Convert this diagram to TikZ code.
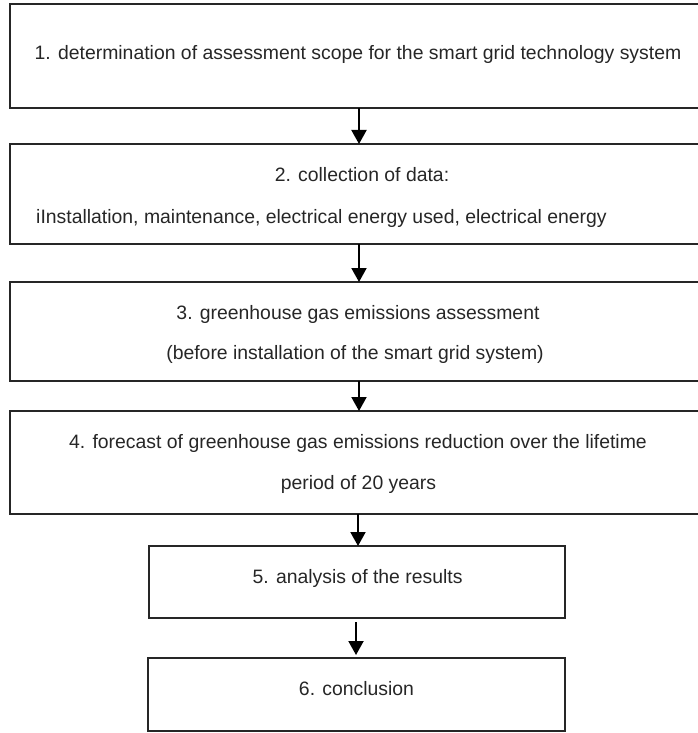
\documentclass[tikz,border=0pt]{standalone}
\usepackage{fontspec}
\setmainfont{Liberation Sans}
\usetikzlibrary{arrows.meta}
\begin{document}
\begin{tikzpicture}[x=1pt,y=-1pt,
  stepbox/.style={draw=black!85,line width=1.3pt,inner sep=0pt,outer sep=0pt,rectangle},
  lbl/.style={inner sep=0pt,anchor=base,text=black!85,font=\fontsize{19.4}{23}\selectfont},
  arr/.style={line width=2pt,-{Triangle[width=15pt,length=14pt]}}]
\useasboundingbox (0,0) rectangle (698,733);
\node[stepbox,minimum width=696pt,minimum height=104pt] (b1) at (358,56) {};
\node[stepbox,minimum width=696pt,minimum height=100pt] (b2) at (358,194) {};
\node[stepbox,minimum width=696pt,minimum height=99pt] (b3) at (358,331.5) {};
\node[stepbox,minimum width=696pt,minimum height=103pt] (b4) at (358,462.5) {};
\node[stepbox,minimum width=416pt,minimum height=72pt] (b5) at (357,582) {};
\node[stepbox,minimum width=417pt,minimum height=73pt] (b6) at (356.5,694.5) {};
\node[lbl] (t1) at (358,60) {1. determination of assessment scope for the smart grid technology system};
\node[lbl] (t2a) at (362,181) {2. collection of data:};
\node[lbl,anchor=base west] (t2b) at (36,223) {iInstallation, maintenance, electrical energy used, electrical energy};
\node[lbl] (t3a) at (358,319) {3. greenhouse gas emissions assessment};
\node[lbl] (t3b) at (355,359) {(before installation of the smart grid system)};
\node[lbl] (t4a) at (358,448) {4. forecast of greenhouse gas emissions reduction over the lifetime};
\node[lbl] (t4b) at (358.5,489) {period of 20 years};
\node[lbl] (t5) at (357.6,583) {5. analysis of the results};
\node[lbl] (t6) at (356.5,695) {6. conclusion};
\draw[arr] ([xshift=1pt]b1.south) -- ([xshift=1pt]b2.north);
\draw[arr] ([xshift=1pt]b2.south) -- ([xshift=1pt]b3.north);
\draw[arr] ([xshift=1pt]b3.south) -- ([xshift=1pt]b4.north);
\draw[arr] (b4.south) -- ([xshift=1pt]b5.north);
\draw[arr,shorten <=4pt,shorten >=3pt] ([xshift=-1pt]b5.south) -- ([xshift=-0.5pt]b6.north);
\end{tikzpicture}
\end{document}
